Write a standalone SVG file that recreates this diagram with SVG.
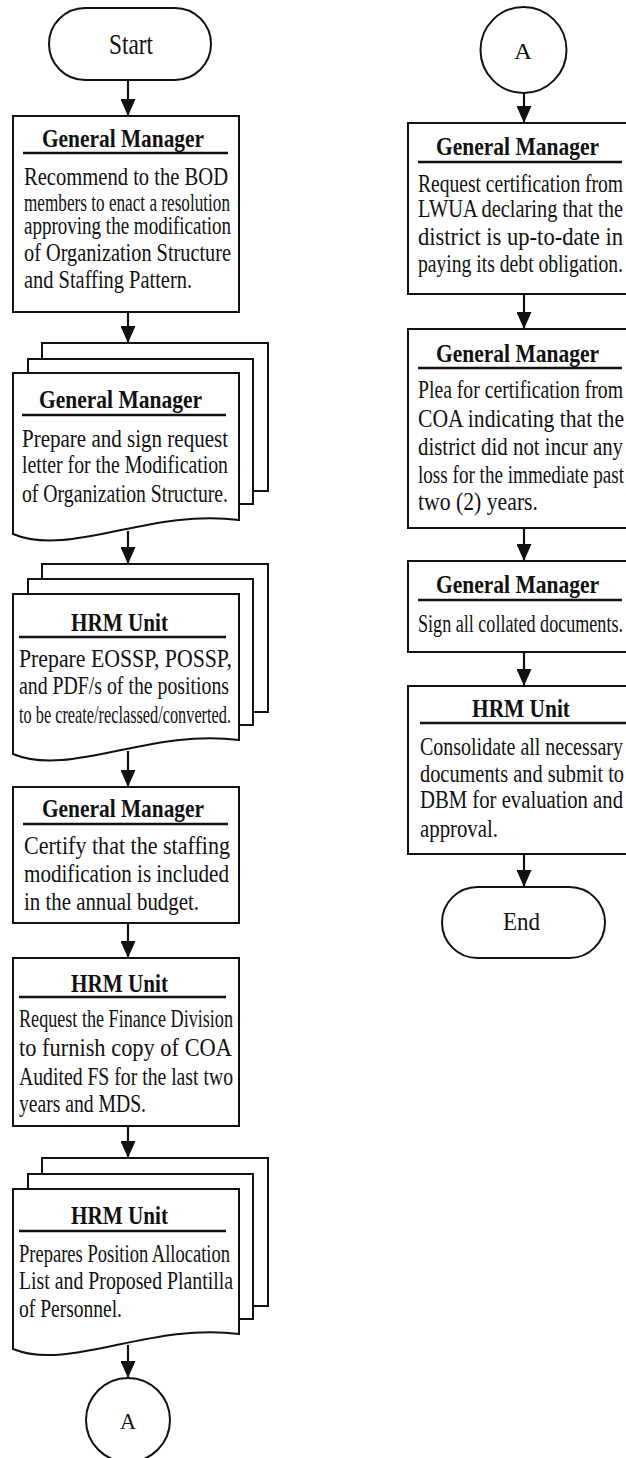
<svg xmlns="http://www.w3.org/2000/svg" width="626" height="1458" viewBox="0 0 626 1458">
  <defs>
    <style>
      .shape { fill: #fff; stroke: #111; stroke-width: 2; }
      .rule { stroke: #111; stroke-width: 2.5; }
      .hd { font-family: "Liberation Serif", "Times New Roman", serif; font-weight: bold; font-size: 26px; fill: #111; }
      .tx { font-family: "Liberation Serif", "Times New Roman", serif; font-size: 25px; fill: #111; }
      .term { font-family: "Liberation Serif", "Times New Roman", serif; font-size: 30px; fill: #111; }
      .fin { font-family: "Liberation Serif", "Times New Roman", serif; font-size: 26px; fill: #111; }
      .circ { font-family: "Liberation Serif", "Times New Roman", serif; font-size: 23px; fill: #111; }
      .flow { stroke: #111; stroke-width: 2.2; fill: none; marker-end: url(#head); }
    </style>
    <marker id="head" markerUnits="userSpaceOnUse" markerWidth="17" markerHeight="15" refX="17" refY="7.5" orient="auto">
      <path d="M0,0 L17,7.5 L0,15 Z" fill="#111"/>
    </marker>
  </defs>
  <rect width="626" height="1458" fill="#fff"/>

  <!-- connectors -->
  <g id="connectors">
    <line class="flow" x1="128" y1="80" x2="128" y2="116"/>
    <line class="flow" x1="128" y1="312" x2="128" y2="343"/>
    <line class="flow" x1="128" y1="531" x2="128" y2="564"/>
    <line class="flow" x1="128" y1="751" x2="128" y2="787"/>
    <line class="flow" x1="128" y1="923" x2="128" y2="958"/>
    <line class="flow" x1="128" y1="1126" x2="128" y2="1158"/>
    <line class="flow" x1="128" y1="1345" x2="128" y2="1378"/>
    <line class="flow" x1="524" y1="93" x2="524" y2="123"/>
    <line class="flow" x1="524" y1="294" x2="524" y2="329"/>
    <line class="flow" x1="524" y1="528" x2="524" y2="561"/>
    <line class="flow" x1="524" y1="652" x2="524" y2="686"/>
    <line class="flow" x1="524" y1="854" x2="524" y2="887"/>
  </g>

  <!-- left column -->
  <g id="start">
    <rect class="shape" x="49" y="8" width="162" height="72" rx="36"/>
    <text class="term" x="109" y="54" textLength="44" lengthAdjust="spacingAndGlyphs">Start</text>
  </g>

  <g id="gm-recommend">
    <rect class="shape" x="13" y="116" width="226" height="196"/>
    <text class="hd" x="42" y="147" textLength="162" lengthAdjust="spacingAndGlyphs">General Manager</text>
    <line class="rule" x1="23" y1="153" x2="228" y2="153"/>
    <text class="tx" x="24" y="185" textLength="204" lengthAdjust="spacingAndGlyphs">Recommend to the BOD</text>
    <text class="tx" x="24" y="211" textLength="206" lengthAdjust="spacingAndGlyphs">members to enact a resolution</text>
    <text class="tx" x="24" y="234" textLength="207" lengthAdjust="spacingAndGlyphs">approving the modification</text>
    <text class="tx" x="24" y="261" textLength="207" lengthAdjust="spacingAndGlyphs">of Organization Structure</text>
    <text class="tx" x="24" y="288" textLength="168" lengthAdjust="spacingAndGlyphs">and Staffing Pattern.</text>
  </g>

  <g id="gm-request-letter">
    <rect class="shape" x="42" y="343" width="226" height="148"/>
    <rect class="shape" x="28" y="359" width="225" height="145"/>
    <path class="shape" d="M13,373 H239 V520 C150,508 70,558 13,534 Z"/>
    <text class="hd" x="39" y="408" textLength="163" lengthAdjust="spacingAndGlyphs">General Manager</text>
    <line class="rule" x1="22" y1="415" x2="226" y2="415"/>
    <text class="tx" x="22" y="447" textLength="206" lengthAdjust="spacingAndGlyphs">Prepare and sign request</text>
    <text class="tx" x="22" y="473" textLength="206" lengthAdjust="spacingAndGlyphs">letter for the Modification</text>
    <text class="tx" x="22" y="502" textLength="206" lengthAdjust="spacingAndGlyphs">of Organization Structure.</text>
  </g>

  <g id="hrm-eossp">
    <rect class="shape" x="42" y="564" width="226" height="148"/>
    <rect class="shape" x="28" y="579" width="225" height="146"/>
    <path class="shape" d="M13,594 H239 V740 C150,728 70,778 13,754 Z"/>
    <text class="hd" x="71" y="631" textLength="97" lengthAdjust="spacingAndGlyphs">HRM Unit</text>
    <line class="rule" x1="19" y1="637" x2="226" y2="637"/>
    <text class="tx" x="19" y="667" textLength="213" lengthAdjust="spacingAndGlyphs">Prepare EOSSP, POSSP,</text>
    <text class="tx" x="19" y="694" textLength="210" lengthAdjust="spacingAndGlyphs">and PDF/s of the positions</text>
    <text class="tx" x="19" y="723" textLength="212" lengthAdjust="spacingAndGlyphs">to be create/reclassed/converted.</text>
  </g>

  <g id="gm-certify">
    <rect class="shape" x="13" y="787" width="226" height="136"/>
    <text class="hd" x="42" y="817" textLength="162" lengthAdjust="spacingAndGlyphs">General Manager</text>
    <line class="rule" x1="23" y1="824" x2="228" y2="824"/>
    <text class="tx" x="24" y="854" textLength="206" lengthAdjust="spacingAndGlyphs">Certify that the staffing</text>
    <text class="tx" x="24" y="882" textLength="205" lengthAdjust="spacingAndGlyphs">modification is included</text>
    <text class="tx" x="24" y="910" textLength="175" lengthAdjust="spacingAndGlyphs">in the annual budget.</text>
  </g>

  <g id="hrm-finance">
    <rect class="shape" x="13" y="958" width="226" height="168"/>
    <text class="hd" x="71" y="992" textLength="97" lengthAdjust="spacingAndGlyphs">HRM Unit</text>
    <line class="rule" x1="19" y1="997" x2="226" y2="997"/>
    <text class="tx" x="19" y="1027" textLength="214" lengthAdjust="spacingAndGlyphs">Request the Finance Division</text>
    <text class="tx" x="19" y="1056" textLength="213" lengthAdjust="spacingAndGlyphs">to furnish copy of COA</text>
    <text class="tx" x="19" y="1085" textLength="214" lengthAdjust="spacingAndGlyphs">Audited FS for the last two</text>
    <text class="tx" x="19" y="1112" textLength="127" lengthAdjust="spacingAndGlyphs">years and MDS.</text>
  </g>

  <g id="hrm-plantilla">
    <rect class="shape" x="42" y="1158" width="226" height="148"/>
    <rect class="shape" x="28" y="1174" width="225" height="145"/>
    <path class="shape" d="M13,1189 H239 V1334 C150,1322 70,1372 13,1349 Z"/>
    <text class="hd" x="71" y="1224" textLength="97" lengthAdjust="spacingAndGlyphs">HRM Unit</text>
    <line class="rule" x1="19" y1="1231" x2="226" y2="1231"/>
    <text class="tx" x="19" y="1262" textLength="211" lengthAdjust="spacingAndGlyphs">Prepares Position Allocation</text>
    <text class="tx" x="19" y="1289" textLength="214" lengthAdjust="spacingAndGlyphs">List and Proposed Plantilla</text>
    <text class="tx" x="19" y="1317" textLength="103" lengthAdjust="spacingAndGlyphs">of Personnel.</text>
  </g>

  <g id="connector-a-out">
    <circle class="shape" cx="128" cy="1420" r="42"/>
    <text class="circ" x="120" y="1429" textLength="16" lengthAdjust="spacingAndGlyphs">A</text>
  </g>

  <!-- right column -->
  <g id="connector-a-in">
    <circle class="shape" cx="523.5" cy="50" r="43"/>
    <text class="circ" x="514" y="59" textLength="18" lengthAdjust="spacingAndGlyphs">A</text>
  </g>

  <g id="gm-lwua">
    <rect class="shape" x="408" y="123" width="226" height="171"/>
    <text class="hd" x="436" y="155" textLength="163" lengthAdjust="spacingAndGlyphs">General Manager</text>
    <line class="rule" x1="418" y1="162" x2="622" y2="162"/>
    <text class="tx" x="418" y="192" textLength="205" lengthAdjust="spacingAndGlyphs">Request certification from</text>
    <text class="tx" x="418" y="217" textLength="205" lengthAdjust="spacingAndGlyphs">LWUA declaring that the</text>
    <text class="tx" x="418" y="245" textLength="205" lengthAdjust="spacingAndGlyphs">district is up-to-date in</text>
    <text class="tx" x="418" y="272" textLength="205" lengthAdjust="spacingAndGlyphs">paying its debt obligation.</text>
  </g>

  <g id="gm-coa">
    <rect class="shape" x="408" y="329" width="226" height="199"/>
    <text class="hd" x="436" y="362" textLength="163" lengthAdjust="spacingAndGlyphs">General Manager</text>
    <line class="rule" x1="418" y1="368" x2="622" y2="368"/>
    <text class="tx" x="418" y="398" textLength="205" lengthAdjust="spacingAndGlyphs">Plea for certification from</text>
    <text class="tx" x="418" y="427" textLength="206" lengthAdjust="spacingAndGlyphs">COA indicating that the</text>
    <text class="tx" x="418" y="455" textLength="205" lengthAdjust="spacingAndGlyphs">district did not incur any</text>
    <text class="tx" x="418" y="483" textLength="206" lengthAdjust="spacingAndGlyphs">loss for the immediate past</text>
    <text class="tx" x="418" y="510" textLength="120" lengthAdjust="spacingAndGlyphs">two (2) years.</text>
  </g>

  <g id="gm-sign">
    <rect class="shape" x="408" y="561" width="226" height="91"/>
    <text class="hd" x="436" y="593" textLength="163" lengthAdjust="spacingAndGlyphs">General Manager</text>
    <line class="rule" x1="418" y1="600" x2="622" y2="600"/>
    <text class="tx" x="418" y="632" textLength="205" lengthAdjust="spacingAndGlyphs">Sign all collated documents.</text>
  </g>

  <g id="hrm-submit">
    <rect class="shape" x="408" y="686" width="226" height="168"/>
    <text class="hd" x="472" y="717" textLength="98" lengthAdjust="spacingAndGlyphs">HRM Unit</text>
    <line class="rule" x1="420" y1="723" x2="630" y2="723"/>
    <text class="tx" x="420" y="755" textLength="203" lengthAdjust="spacingAndGlyphs">Consolidate all necessary</text>
    <text class="tx" x="420" y="782" textLength="204" lengthAdjust="spacingAndGlyphs">documents and submit to</text>
    <text class="tx" x="420" y="808" textLength="203" lengthAdjust="spacingAndGlyphs">DBM for evaluation and</text>
    <text class="tx" x="420" y="837" textLength="78" lengthAdjust="spacingAndGlyphs">approval.</text>
  </g>

  <g id="end">
    <rect class="shape" x="442" y="887" width="163" height="71" rx="35.5"/>
    <text class="fin" x="503" y="930" textLength="37" lengthAdjust="spacingAndGlyphs">End</text>
  </g>
</svg>
